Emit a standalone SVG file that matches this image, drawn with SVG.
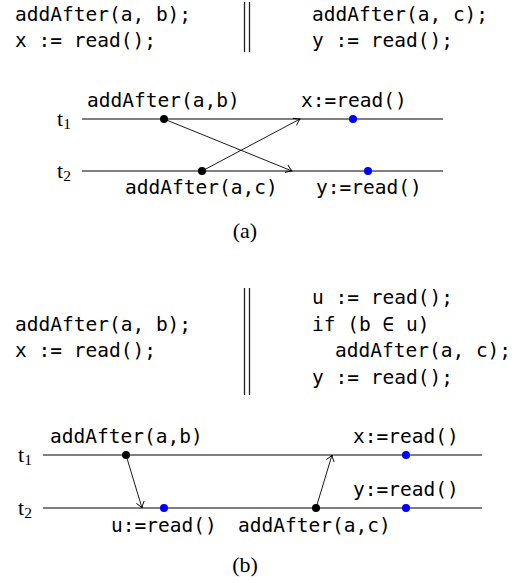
<svg xmlns="http://www.w3.org/2000/svg" width="522" height="583" viewBox="0 0 522 583">
<style>
.code{font-family:"DejaVu Sans Mono","Liberation Mono",monospace;font-size:19.5px;fill:#000}
.lbl{font-family:"DejaVu Sans Mono","Liberation Mono",monospace;font-size:19.5px;fill:#000}
.ser{font-family:"Liberation Serif","DejaVu Serif",serif;font-size:22px;fill:#000}
.sub{font-size:15.5px}
.tl{stroke:#000;stroke-width:1.2;fill:none}
.bar{stroke:#222;stroke-width:1.3}
.arr{stroke:#000;stroke-width:0.9;fill:none;marker-end:url(#ah)}
.bd{fill:#000}
.bl{fill:#0000ff}
</style>
<defs>
<marker id="ah" markerUnits="userSpaceOnUse" viewBox="-8 -6 10 12" markerWidth="10" markerHeight="12" refX="0" refY="0" orient="auto">
<path d="M-6,-4 Q-2,-0.8 0,0 Q-2,0.8 -6,4" fill="none" stroke="#000" stroke-width="0.9"/>
</marker>
</defs>

<g id="code-a">
<text class="code" x="15" y="21">addAfter(a, b);</text>
<text class="code" x="15" y="47">x := read();</text>
<line class="bar" x1="244.5" y1="2" x2="244.5" y2="52"/>
<line class="bar" x1="249.5" y1="2" x2="249.5" y2="52"/>
<text class="code" x="312" y="21">addAfter(a, c);</text>
<text class="code" x="312" y="47">y := read();</text>
</g>

<g id="timelines-a">
<text class="ser" x="57" y="126">t<tspan class="sub" dy="3">1</tspan></text>
<text class="ser" x="57" y="178">t<tspan class="sub" dy="3">2</tspan></text>
<line class="tl" x1="82" y1="119" x2="443" y2="119"/>
<line class="tl" x1="82" y1="171" x2="443" y2="171"/>
</g>

<g id="connectors-a">
<line class="arr" x1="164" y1="119" x2="292" y2="171"/>
<line class="arr" x1="202" y1="171" x2="300" y2="119"/>
</g>

<g id="n-a-addb"><circle class="bd" cx="164" cy="119" r="4"/><text class="lbl" x="87" y="107">addAfter(a,b)</text></g>
<g id="n-a-x"><circle class="bl" cx="353" cy="119" r="4"/><text class="lbl" x="301" y="107">x:=read()</text></g>
<g id="n-a-addc"><circle class="bd" cx="202" cy="171" r="4"/><text class="lbl" x="125" y="194">addAfter(a,c)</text></g>
<g id="n-a-y"><circle class="bl" cx="368" cy="171" r="4"/><text class="lbl" x="316" y="194">y:=read()</text></g>

<text class="ser" x="245" y="238" text-anchor="middle">(a)</text>

<g id="code-b">
<text class="code" x="15" y="331">addAfter(a, b);</text>
<text class="code" x="15" y="357">x := read();</text>
<line class="bar" x1="244.5" y1="288" x2="244.5" y2="395"/>
<line class="bar" x1="249.5" y1="288" x2="249.5" y2="395"/>
<text class="code" x="312" y="304">u := read();</text>
<text class="code" x="312" y="330.5">if (b ∈ u)</text>
<text class="code" x="335" y="357">addAfter(a, c);</text>
<text class="code" x="312" y="383.5">y := read();</text>
</g>

<g id="timelines-b">
<text class="ser" x="18" y="462">t<tspan class="sub" dy="3">1</tspan></text>
<text class="ser" x="18" y="515">t<tspan class="sub" dy="3">2</tspan></text>
<line class="tl" x1="43" y1="455" x2="482" y2="455"/>
<line class="tl" x1="43" y1="508" x2="482" y2="508"/>
</g>

<g id="connectors-b">
<line class="arr" x1="126" y1="455" x2="142" y2="508"/>
<line class="arr" x1="316" y1="508" x2="332" y2="455"/>
</g>

<g id="n-b-addb"><circle class="bd" cx="126" cy="455" r="4"/><text class="lbl" x="50" y="443">addAfter(a,b)</text></g>
<g id="n-b-x"><circle class="bl" cx="406" cy="455" r="4"/><text class="lbl" x="353" y="443">x:=read()</text></g>
<g id="n-b-u"><circle class="bl" cx="164" cy="508" r="4"/><text class="lbl" x="111" y="532">u:=read()</text></g>
<g id="n-b-addc"><circle class="bd" cx="316" cy="508" r="4"/><text class="lbl" x="238" y="532">addAfter(a,c)</text></g>
<g id="n-b-y"><circle class="bl" cx="406" cy="508" r="4"/><text class="lbl" x="353" y="496">y:=read()</text></g>

<text class="ser" x="245" y="572" text-anchor="middle">(b)</text>
</svg>
